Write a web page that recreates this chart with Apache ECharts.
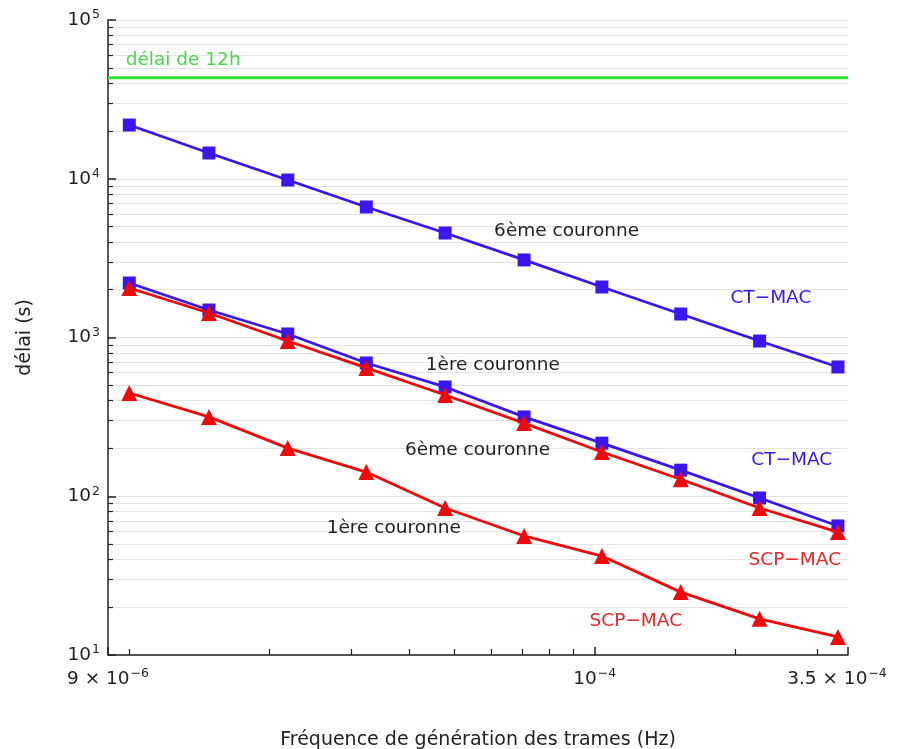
<!DOCTYPE html>
<html>
<head>
<meta charset="utf-8">
<script src="https://cdn.jsdelivr.net/npm/echarts@6/dist/echarts.min.js"></script>
<style>
html,body{margin:0;padding:0;background:#fff;}
#chart{width:900px;height:749px;}
</style>
</head>
<body>
<div id="chart"></div>
<script>
// ---- data ----
const freq = [1e-5, 1.483e-5, 2.19e-5, 3.23e-5, 4.77e-5, 7.05e-5, 1.036e-4, 1.53e-4, 2.26e-4, 3.33e-4];
const ctmac6 = [21800, 14530, 9820, 6640, 4550, 3080, 2080, 1406, 950, 652];
const ctmac1 = [2204, 1490, 1052, 691, 488, 316, 216, 146, 97.5, 65];
const scpmac6 = [2050, 1427, 950, 643, 434, 289, 190, 128, 84.3, 59.5];
const scpmac1 = [447, 316, 201, 142, 84.3, 56.2, 42, 24.9, 16.9, 13.0];
const delay12h = 43200;
const xMin = 9e-6, xMax = 3.5e-4;
const yMin = 10, yMax = 1e5;
const xMajorTicks = [9e-6, 1e-4, 3.5e-4];
const xLabelText = ['9 × 10|−6', '10|−4', '3.5 × 10|−4'];
const xMinorTicks = [1e-5, 2e-5, 3e-5, 4e-5, 5e-5, 6e-5, 7e-5, 8e-5, 9e-5, 2e-4, 3e-4];
const xGrid = [1e-5, 2e-5, 3e-5, 4e-5, 5e-5, 6e-5, 7e-5, 8e-5, 9e-5, 1e-4, 2e-4, 3e-4, 3.5e-4];
const yMajorTicks = [10, 100, 1000, 10000, 100000];
const yMinorTicks = [];
const yGrid = [];
[10, 100, 1000, 10000].forEach(d => { for (let k = 2; k <= 9; k++) yMinorTicks.push(k * d); });
[10, 100, 1000, 10000].forEach(d => { for (let k = 1; k <= 9; k++) yGrid.push(k * d); }); yGrid.push(100000);
// annotations: text, x, y (data space)
const annTexts = ['délai de 12h', '6ème couronne', 'CT−MAC', '1ère couronne', 'CT−MAC', '6ème couronne', 'SCP−MAC', '1ère couronne', 'SCP−MAC'];
const annX = [9.8e-6, 8.7e-5, 2.39e-4, 6.04e-5, 2.65e-4, 5.6e-5, 2.69e-4, 3.7e-5, 1.225e-4];
const annY = [56000, 4690, 1774, 671, 169, 195, 39.6, 63.1, 16.4];
const annKind = ['green', 'black', 'blue', 'black', 'blue', 'black', 'red', 'black', 'red'];

const BLUE = '#3c16ee', RED = '#ee0a0a', GREEN = '#33e033';
const FONT = 'DejaVu Sans';
const kindColor = {green: '#4ad84a', black: '#222', blue: '#3c16ee', red: '#e8262a'};

const pair = (xs, ys) => xs.map((x, i) => [x, ys[i]]);

const chart = echarts.init(document.getElementById('chart'), null, {renderer: 'canvas'});

const supRich = {
  b: {fontSize: 18.5, fontFamily: FONT, color: '#222', lineHeight: 24},
  s: {fontSize: 12.5, fontFamily: FONT, color: '#222', lineHeight: 24, padding: [0, 0, 10, 1]}
};

const option = {
  animation: false,
  backgroundColor: '#fff',
  grid: {left: 108, right: 52, top: 20, bottom: 94, containLabel: false, outerBoundsMode: 'none'},
  xAxis: [
    {
      type: 'log', logBase: 10, min: xMin, max: xMax, position: 'bottom',
      name: 'Fréquence de génération des trames (Hz)', nameLocation: 'middle', nameGap: 76,
      nameTextStyle: {fontSize: 19, fontFamily: FONT, color: '#222'},
      axisLine: {show: true, lineStyle: {color: '#222', width: 1.5}},
      axisTick: {show: true, inside: true, length: 8, customValues: xMajorTicks, lineStyle: {color: '#222', width: 1.5}},
      axisLabel: {
        show: true, margin: 12, customValues: xMajorTicks,
        formatter: (v) => {
          let idx = 0, best = Infinity;
          xMajorTicks.forEach((t, i) => { const d = Math.abs(Math.log10(t) - Math.log10(v)); if (d < best) { best = d; idx = i; } });
          const parts = xLabelText[idx].split('|');
          const pad = idx === 2 ? '{p|}' : '';
          return '{b|' + parts[0] + '}{s|' + parts[1] + '}' + pad;
        },
        rich: Object.assign({p: {width: 22}}, supRich)
      },
      splitLine: {show: false}, minorTick: {show: false}, minorSplitLine: {show: false}
    },
    {
      type: 'log', logBase: 10, min: xMin, max: xMax, position: 'bottom',
      axisLine: {show: false},
      axisTick: {show: true, inside: true, length: 6, customValues: xMinorTicks, lineStyle: {color: '#222', width: 1.2}},
      axisLabel: {show: false},
      splitLine: {show: false}
    }
  ],
  yAxis: [
    {
      type: 'log', logBase: 10, min: yMin, max: yMax, position: 'left',
      name: 'délai (s)', nameLocation: 'middle', nameGap: 73, nameRotate: 90,
      nameTextStyle: {fontSize: 19, fontFamily: FONT, color: '#222'},
      axisLine: {show: true, lineStyle: {color: '#222', width: 1.5}},
      axisTick: {show: true, inside: true, length: 8, customValues: yMajorTicks, lineStyle: {color: '#222', width: 1.5}},
      axisLabel: {
        show: true, margin: 8, customValues: yMajorTicks,
        formatter: (v) => {
          const e = Math.round(Math.log10(v));
          return '{b|10}{s|' + e + '}';
        },
        rich: supRich
      },
      splitLine: {show: false}
    },
    {
      type: 'log', logBase: 10, min: yMin, max: yMax, position: 'left',
      axisLine: {show: false},
      axisTick: {show: true, inside: true, length: 5, customValues: yMinorTicks, lineStyle: {color: '#222', width: 1.2}},
      axisLabel: {show: false},
      splitLine: {show: false}
    }
  ],
  series: [
    {
      type: 'line', name: 'grid', data: [], z: 0, silent: true,
      markLine: {
        silent: true, z: 0, symbol: ['none', 'none'], animation: false,
        label: {show: false},
        lineStyle: {color: '#e3e3e3', width: 1, type: 'solid'},
        data: xGrid.map(v => ({xAxis: v})).concat(yGrid.map(v => ({yAxis: v})))
      }
    },
    {
      type: 'line', name: '12h', data: [[xMin, delay12h], [xMax, delay12h]],
      symbol: 'none', lineStyle: {color: GREEN, width: 3}, z: 3
    },
    {
      type: 'line', name: 'CT-MAC 6', data: pair(freq, ctmac6),
      symbol: 'rect', symbolSize: 13, lineStyle: {color: BLUE, width: 2.8}, itemStyle: {color: BLUE}, z: 4
    },
    {
      type: 'line', name: 'CT-MAC 1', data: pair(freq, ctmac1),
      symbol: 'rect', symbolSize: 13, lineStyle: {color: BLUE, width: 2.8}, itemStyle: {color: BLUE}, z: 4
    },
    {
      type: 'line', name: 'SCP-MAC 6', data: pair(freq, scpmac6),
      symbol: 'triangle', symbolSize: 16, lineStyle: {color: RED, width: 2.8}, itemStyle: {color: RED}, z: 5
    },
    {
      type: 'line', name: 'SCP-MAC 1', data: pair(freq, scpmac1),
      symbol: 'triangle', symbolSize: 16, lineStyle: {color: RED, width: 2.8}, itemStyle: {color: RED}, z: 5,
      markPoint: {
        silent: true, z: 6, symbol: 'circle', symbolSize: 1, itemStyle: {color: 'rgba(0,0,0,0)'},
        animation: false,
        data: annTexts.map((t, i) => ({
          coord: [annX[i], annY[i]],
          label: {
            show: true, position: i === 0 ? 'right' : 'inside', distance: 0,
            formatter: t, fontSize: 18.5, fontFamily: FONT, color: kindColor[annKind[i]]
          }
        }))
      }
    }
  ]
};
chart.setOption(option);
</script>
</body>
</html>
